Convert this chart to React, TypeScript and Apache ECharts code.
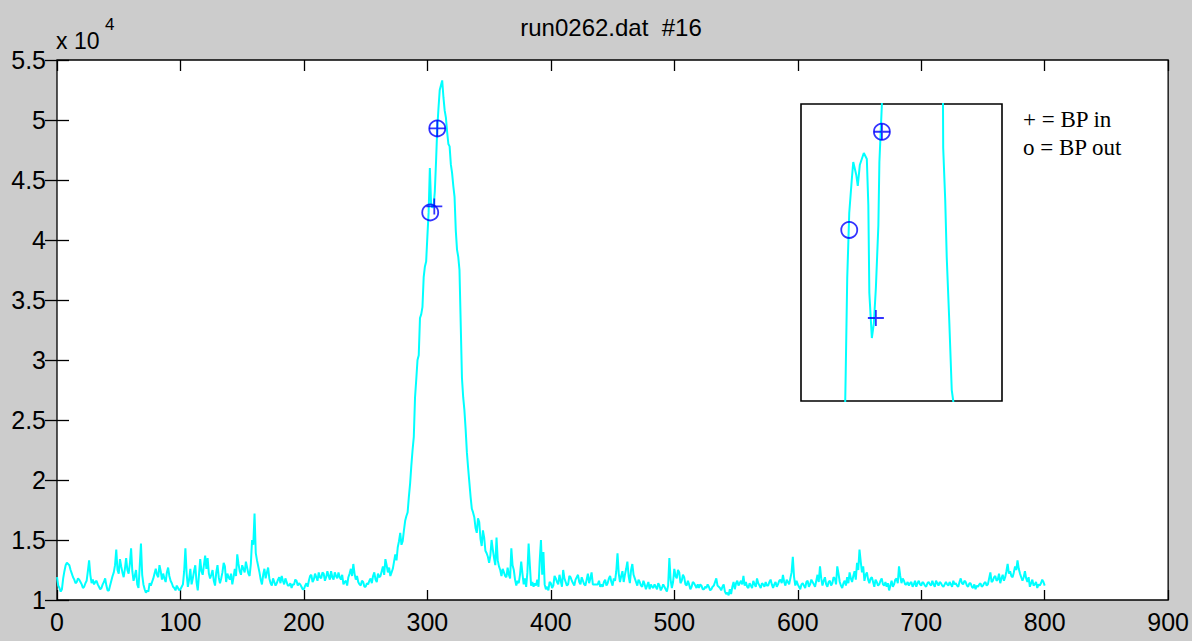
import React, { useEffect, useRef } from "react";
import * as echarts from "echarts";

// Detector counts, even samples 0, 2, ..., 800
const countsEven = [
  11900, 11000, 10900, 12400, 13100, 12900, 12200, 11700, 11500, 11700,
  11300, 11100, 11600, 13300, 11400, 11300, 11600, 11100, 11000, 11500,
  11200, 10800, 11600, 12300, 14200, 12200, 12800, 11900, 13500, 12200,
  14300, 11600, 12500, 11000, 14700, 11300, 10600, 10700, 11200, 11800,
  12600, 11900, 12400, 12200, 11500, 12700, 11600, 11100, 10800, 11000,
  10900, 11300, 14300, 11100, 12600, 11800, 12900, 10800, 13400, 12100,
  13700, 13500, 11800, 12500, 11200, 12900, 11400, 12300, 12800, 12200,
  11700, 11300, 12600, 13800, 12400, 12900, 12300, 12700, 12000, 15000,
  17200, 13300, 12300, 11300, 12600, 12300, 11800, 11200, 11500, 11400,
  11900, 12000, 11300, 11500, 11200, 11000, 11300, 11600, 11400, 11100,
  10900, 11400, 11600, 12100, 11700, 11900, 12300, 11800, 12200, 11900,
  12000, 12400, 11700, 12000, 12300, 11700, 11300, 11600, 11900, 12600,
  13000, 11700, 11500, 11200, 11500, 11100, 11300, 11800, 12000, 11700,
  12200, 12000, 12800, 13400, 12300, 12000, 12600, 13800, 14400, 15600,
  14900, 16600, 17300, 19700, 22500, 26900, 30000, 33500, 34400, 37800,
  40300, 46000, 42700, 44000, 49300, 52500, 53300, 50800, 49000, 47800,
  45600, 43600, 39200, 37500, 28500, 25800, 22300, 19800, 17600, 16900,
  15600, 16500, 14500, 15200, 13900, 13100, 15000, 13500, 15200, 12800,
  12000, 12300, 11900, 12100, 14300, 12500, 11200, 11400, 13200, 11300,
  11100, 14700, 11200, 11100, 11200, 11100, 15000, 14000, 10900, 10800,
  11400, 11200, 11800, 11300, 11600, 12500, 11500, 11300, 11900, 11400,
  11700, 12100, 11300, 11600, 11200, 12200, 11800, 11300, 11300, 11300,
  11100, 11100, 11700, 11400, 12000, 11200, 11600, 13900, 11500, 12400,
  12100, 13200, 11400, 13000, 11800, 11200, 11500, 11100, 11300, 11200,
  10900, 11100, 11300, 10900, 11200, 11000, 11100, 10700, 13500, 11000,
  12600, 11800, 12300, 11600, 11900, 11200, 11300, 11100, 11400, 11000,
  11000, 11200, 10900, 11000, 11100, 10900, 11200, 11800, 11100, 10800,
  11300, 10500, 10400, 10500, 11500, 11400, 11200, 11600, 12000, 11500,
  11000, 11200, 11600, 11100, 11400, 11000, 11300, 11500, 11200, 11700,
  11000, 11500, 11300, 11700, 12100, 11200, 11500, 11800, 13600, 11200,
  11300, 10900, 11400, 11000, 11600, 11300, 11500, 11100, 12100, 12800,
  11200, 11900, 11100, 11600, 11400, 11800, 12800, 11500, 11000, 11600,
  11900, 12300, 11500, 12400, 13100, 14200, 12300, 11600, 12300, 11400,
  11900, 11100, 11500, 11300, 11800, 11200, 11100, 10800, 11600, 11300,
  11800, 12800, 11400, 11600, 11300, 11200, 11500, 11300, 11100, 11600,
  11200, 11400, 11100, 11500, 11200, 11300, 11600, 11200, 11400, 11100,
  11500, 11200, 11300, 11600, 11400, 11100, 11800, 11300, 11500, 11100,
  11400, 11000, 10900, 11100, 11400, 11200, 11500, 11300, 12300, 11600,
  12000, 11700, 11400, 12100, 11900, 13000, 12400, 11900, 12800, 13300,
  12200, 11600, 12400, 11500, 11100, 11700, 11300, 11000, 11200, 11700,
  11200,
];

// Detector counts, odd samples 1, 3, ..., 799
const countsOdd = [
  11200, 10700, 11800, 12900, 13000, 12500, 11900, 11400, 11800, 11500,
  11000, 11400, 12400, 12100, 11700, 11500, 11300, 10900, 11300, 11800,
  10800, 11200, 12000, 12900, 12500, 13400, 12300, 12600, 12500, 13000,
  12400, 12000, 11300, 12800, 12100, 10900, 10800, 11400, 11500, 12200,
  12100, 12900, 11700, 11800, 12300, 12000, 11400, 11000, 11200, 10800,
  11100, 12400, 12200, 11700, 11300, 12400, 11500, 12100, 12400, 12900,
  12600, 12200, 12100, 11600, 12300, 11900, 11800, 13100, 11500, 11900,
  12200, 11900, 12000, 13000, 12100, 12600, 13200, 12200, 13000, 14600,
  13900, 12800, 11700, 12100, 11800, 12700, 11400, 11800, 11200, 11700,
  11400, 11600, 11800, 11200, 11400, 11300, 11700, 11200, 11300, 10900,
  11200, 11100, 12000, 11500, 12200, 11600, 11900, 12300, 11600, 12400,
  11700, 11900, 12300, 11800, 11900, 12100, 11500, 11200, 12200, 12000,
  12200, 12000, 11300, 11600, 11100, 11400, 11600, 11400, 12300, 11500,
  11900, 12400, 12100, 12900, 12700, 12300, 13200, 13300, 14900, 14600,
  15800, 17000, 18600, 21200, 23600, 28400, 30400, 33800, 36900, 38200,
  42300, 43000, 42800, 46500, 51000, 52900, 51900, 50200, 48000, 46300,
  44500, 40800, 38600, 33000, 26900, 24200, 21000, 18600, 17300, 16000,
  16800, 15100, 15800, 14100, 13600, 13700, 14200, 12900, 13300, 12500,
  12600, 12000, 12700, 11800, 12900, 11700, 11600, 12100, 12200, 11800,
  12300, 12900, 11500, 11400, 11700, 13300, 12100, 11300, 11100, 11500,
  11000, 12000, 11500, 12100, 11100, 11800, 11200, 12000, 11600, 11200,
  11900, 11500, 11900, 11300, 11700, 11400, 12300, 11300, 11300, 11600,
  11300, 11500, 11200, 11800, 11500, 11800, 12400, 12200, 12000, 11500,
  12600, 12000, 12500, 12100, 11500, 11700, 11200, 11600, 10900, 11500,
  11300, 11000, 11100, 11400, 10800, 11300, 10900, 11200, 11700, 11500,
  12000, 12500, 11400, 12100, 11300, 11600, 10900, 11500, 11200, 11300,
  11300, 10900, 11100, 11300, 10800, 11100, 11500, 11200, 11000, 11100,
  10700, 10600, 10900, 11100, 10900, 11600, 11400, 11300, 11200, 11100,
  11400, 11000, 11300, 11800, 11200, 11400, 11100, 11200, 11500, 11300,
  11300, 11100, 11600, 11400, 11500, 11700, 11300, 12300, 11900, 11600,
  11100, 11300, 11200, 11500, 11100, 11700, 11300, 11600, 11500, 11800,
  11600, 11300, 11500, 11200, 11900, 11300, 12200, 11200, 11400, 11200,
  11400, 11800, 12000, 11700, 12500, 13200, 12800, 12100, 11700, 11800,
  11500, 11700, 11200, 11600, 11300, 11500, 11400, 11200, 11100, 11700,
  11400, 12000, 11800, 11300, 11500, 11400, 11100, 11600, 11400, 11300,
  11500, 11200, 11400, 11300, 11600, 11100, 11400, 11500, 11200, 11300,
  11300, 11500, 11100, 11300, 11200, 11500, 11400, 11600, 11200, 11400,
  11100, 11300, 11200, 11300, 11100, 11400, 11200, 11800, 11500, 11900,
  11600, 12200, 11800, 11600, 12400, 12200, 12000, 12300, 12500, 12600,
  11900, 11900, 11800, 11900, 11400, 11200, 11500, 11300, 11400, 11500,
];

// Breakpoints found on the main trace: [sample, counts]
const bpIn = [
  [305.6, 42800],
  [308, 49300],
];
const bpOut = [
  [302.3, 42300],
  [308, 49300],
];

// Close-up of the peak top (inset)
const insetRise = [
  [298.7, 32000], [298.8, 34000], [298.9, 35950], [299.2, 42280],
  [299.6, 46660], [300.1, 48880], [300.4, 50090], [301.0, 49220],
  [301.3, 48480], [301.7, 49890], [302.5, 50700], [303.1, 50300],
  [303.4, 47200], [303.6, 41270], [304.1, 38240], [304.5, 39250],
  [304.9, 41610], [305.4, 45850], [305.6, 50090], [306.1, 54000],
  [306.3, 56960],
];
const insetFall = [
  [318.2, 57640], [318.3, 51040], [318.7, 47540], [319.0, 43700],
  [319.5, 39460], [320.0, 34740], [320.3, 34000], [320.5, 32050],
];
const insetBpIn = [
  [304.9, 39590],
  [306.1, 52130],
];
const insetBpOut = [
  [299.6, 45520],
  [306.1, 52130],
];

// Axis ranges
const X_MIN = 0;
const X_MAX = 900;
const X_STEP = 100;
const Y_MIN = 10000;
const Y_MAX = 55000;
const Y_STEP = 5000;
const Y_SCALE = 10000; // tick labels are shown as multiples of 10^4
const INSET_X = [290, 330];
const INSET_Y = [34000, 54000];

const TITLE = "run0262.dat  #16";
const LEGEND_IN = "+ = BP in";
const LEGEND_OUT = "o = BP out";

const SANS = '"Liberation Sans", Arial, Helvetica, sans-serif';
const SERIF = '"Liberation Serif", "Times New Roman", serif';
const CYAN = "#00ffff";
const BLUE = "#0000ff";
const PLUS = "path://M0,5L10,5M5,0L5,10";

export default function App() {
  const ref = useRef<HTMLDivElement>(null);

  useEffect(() => {
    if (!ref.current) return;
    const chart = echarts.init(ref.current, undefined, { renderer: "svg" });

    // interleave even and odd samples back into one trace
    const trace: number[][] = [];
    countsEven.forEach((v, i) => {
      trace.push([2 * i, v]);
      if (i < countsOdd.length) trace.push([2 * i + 1, countsOdd[i]]);
    });

    const tick = (length: number) => ({
      show: true,
      inside: true,
      length,
      lineStyle: { color: "#000", width: 1.3 },
    });
    const label = {
      color: "#000",
      fontFamily: SANS,
      fontSize: 25,
    };

    const marker = (
      data: number[][],
      symbol: string,
      xAxisIndex: number,
      yAxisIndex: number
    ) => ({
      type: "scatter",
      xAxisIndex,
      yAxisIndex,
      data,
      symbol,
      symbolSize: 16,
      silent: true,
      z: 5,
      itemStyle: {
        color: "rgba(0,0,0,0)",
        borderColor: BLUE,
        borderWidth: 1.8,
      },
    });

    const line = (data: number[][], xAxisIndex: number, yAxisIndex: number) => ({
      type: "line",
      xAxisIndex,
      yAxisIndex,
      data,
      showSymbol: false,
      silent: true,
      clip: true,
      lineStyle: { color: CYAN, width: 2 },
    });

    const text = (
      x: number,
      y: number,
      content: string,
      family: string,
      size: number,
      align = "left"
    ) => ({
      type: "text",
      x,
      y,
      style: {
        text: content,
        fontFamily: family,
        fontSize: size,
        fill: "#000",
        align,
        verticalAlign: "middle",
      },
    });

    const option: any = {
      animation: false,
      backgroundColor: "#cccccc",
      grid: [
        {
          left: 57,
          top: 60,
          width: 1113,
          height: 540,
          show: true,
          backgroundColor: "#ffffff",
          borderColor: "#000",
          borderWidth: 1.3,
          containLabel: false,
        },
        {
          left: 801,
          top: 104,
          width: 201,
          height: 297,
          show: true,
          backgroundColor: "#ffffff",
          borderColor: "#000",
          borderWidth: 1.6,
          containLabel: false,
        },
      ],
      xAxis: [
        {
          type: "value",
          gridIndex: 0,
          position: "bottom",
          min: X_MIN,
          max: X_MAX,
          interval: X_STEP,
          axisLine: { show: false },
          axisTick: tick(10),
          splitLine: { show: false },
          axisLabel: { ...label, margin: 9 },
        },
        {
          type: "value",
          gridIndex: 0,
          position: "top",
          min: X_MIN,
          max: X_MAX,
          interval: X_STEP,
          axisLine: { show: false },
          axisTick: tick(11),
          splitLine: { show: false },
          axisLabel: { show: false },
        },
        {
          type: "value",
          gridIndex: 1,
          min: INSET_X[0],
          max: INSET_X[1],
          show: false,
        },
      ],
      yAxis: [
        {
          type: "value",
          gridIndex: 0,
          position: "left",
          min: Y_MIN,
          max: Y_MAX,
          interval: Y_STEP,
          axisLine: { show: false },
          axisTick: tick(12),
          splitLine: { show: false },
          axisLabel: {
            ...label,
            margin: 11,
            formatter: (v: number) => String(v / Y_SCALE),
          },
        },
        {
          type: "value",
          gridIndex: 0,
          position: "right",
          min: Y_MIN,
          max: Y_MAX,
          interval: Y_STEP,
          axisLine: { show: false },
          axisTick: tick(12),
          splitLine: { show: false },
          axisLabel: { show: false },
        },
        {
          type: "value",
          gridIndex: 1,
          min: INSET_Y[0],
          max: INSET_Y[1],
          show: false,
        },
      ],
      series: [
        line(trace, 0, 0),
        marker(bpOut, "circle", 0, 0),
        marker(bpIn, PLUS, 0, 0),
        line(insetRise, 2, 2),
        line(insetFall, 2, 2),
        marker(insetBpOut, "circle", 2, 2),
        marker(insetBpIn, PLUS, 2, 2),
      ],
      graphic: [
        text(611, 27, TITLE, SANS, 24, "center"),
        text(56, 41, "x 10", SANS, 23),
        text(105, 24, "4", SANS, 17),
        text(1023, 119, LEGEND_IN, SERIF, 23),
        text(1023, 147, LEGEND_OUT, SERIF, 23),
      ],
    };

    chart.setOption(option);
    return () => chart.dispose();
  }, []);

  return (
    <div
      ref={ref}
      style={{ position: "fixed", left: 0, top: 0, width: 1192, height: 641 }}
    />
  );
}
